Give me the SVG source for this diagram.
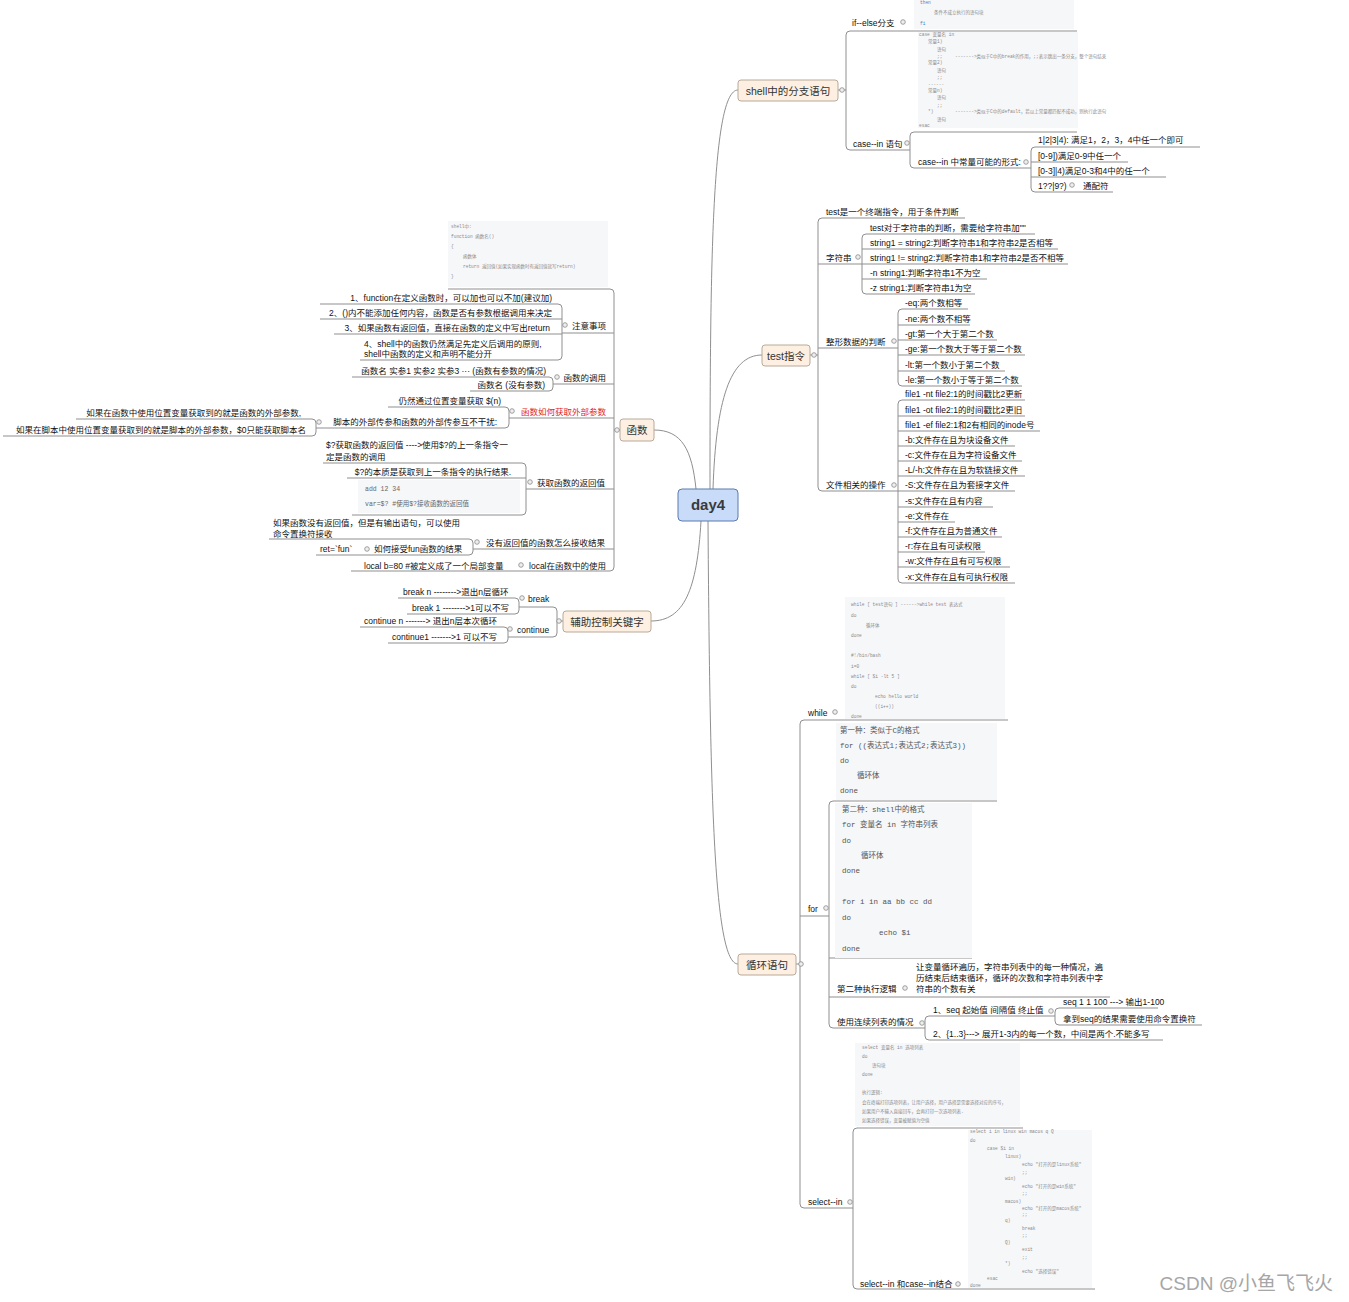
<svg xmlns="http://www.w3.org/2000/svg" width="1349" height="1302" viewBox="0 0 1349 1302">
<style>
.t{font-family:"Liberation Sans","Noto Sans CJK SC",sans-serif;font-size:8.5px;fill:#111}
.m{font-size:10.5px;fill:#333}
.e{text-anchor:end}
.r{fill:#e0231c}
.l{stroke:#8f8f8f;stroke-width:1;fill:none}
.d{fill:#eee;stroke:#8a8a8a;stroke-width:0.8}
.bx{fill:#fdf0e2;stroke:#b9aa99;stroke-width:1}
.im{fill:#f6f7f9}
.c{font-family:"Liberation Mono","Noto Sans CJK SC",monospace;font-size:4.5px;fill:#8a8a8a}
.c2{font-family:"Liberation Mono","Noto Sans CJK SC",monospace;font-size:7.5px;fill:#555}
.c3{font-family:"Liberation Mono","Noto Sans CJK SC",monospace;font-size:6.5px;fill:#666}
.bl{fill:#4a7fc1}
</style>
<rect width="1349" height="1302" fill="#fff"/>
<g id="connectors" class="l">
<path d="M710 489 C710 260 712 90 738 90"/>
<path d="M713 489 C716 400 730 355 762 355"/>
<path d="M696 489 C692 450 682 430 654 430"/>
<path d="M701 521 C697 590 684 621 651 621"/>
<path d="M708 521 C710 800 714 964 738 964"/>
<path d="M838 90 H846 M850 31 Q846 31 846 35 V146 Q846 150 850 150 M850 31 H1077 M850 150 H910"/>
<path d="M914 132 Q910 132 910 136 V164 Q910 168 914 168 M914 132 H1077 M914 168 H1031"/>
<path d="M1035 147 Q1031 147 1031 151 V188 Q1031 192 1035 192 M1035 147 H1200 M1031 162 H1128 M1031 177 H1166 M1035 192 H1113"/>
<path d="M810 355 H818 M822 218 Q818 218 818 222 V487 Q818 491 822 491 M822 218 H965 M818 264 H862 M818 348 H898 M822 491 H898"/>
<path d="M866 234 Q862 234 862 238 V290 Q862 294 866 294 M866 234 H1035 M862 249 H1058 M862 264 H1068 M862 279 H987 M866 294 H975"/>
<path d="M902 309 Q898 309 898 313 V382 Q898 386 902 386 M902 309 H968 M898 325 H970 M898 340 H997 M898 355 H1025 M898 371 H1005 M902 386 H1022"/>
<path d="M902 400 Q898 400 898 404 V579 Q898 583 902 583 M902 400 H1025 M898 416 H1025 M898 431 H1040 M898 446 H1015 M898 461 H1022 M898 476 H1025 M898 491 H1015 M898 507 H993 M898 522 H955 M898 537 H1002 M898 552 H985 M898 567 H1010 M902 583 H1015"/>
<path d="M620 430 H614 M610 289 Q614 289 614 293 V567 Q614 571 610 571 M448 289 H610 M562 333 H614 M553 384 H614 M509 418 H614 M526 489 H614 M473 549 H614 M351 571 H610"/>
<path d="M558 304 Q562 304 562 308 V356 Q562 360 558 360 M320 304 H558 M320 319 H562 M334 334 H562 M360 360 H558"/>
<path d="M549 377 Q553 377 553 381 V387 Q553 391 549 391 M352 377 H549 M470 391 H549"/>
<path d="M505 407 Q509 407 509 411 V424 Q509 428 505 428 M388 407 H505 M316 428 H505"/>
<path d="M312 419 Q316 419 316 423 V432 Q316 436 312 436 M76 419 H312 M3 436 H312"/>
<path d="M522 463 Q526 463 526 467 V511 Q526 515 522 515 M323 463 H522 M347 478 H526 M352 515 H522"/>
<path d="M469 539 Q473 539 473 543 V551 Q473 555 469 555 M269 539 H469 M316 555 H469"/>
<path d="M563 621 H557 M553 607 Q557 607 557 611 V633 Q557 637 553 637 M519 607 H553 M508 637 H553"/>
<path d="M515 598 Q519 598 519 602 V610 Q519 614 515 614 M398 598 H515 M407 614 H515"/>
<path d="M504 627 Q508 627 508 631 V639 Q508 643 504 643 M360 627 H504 M388 643 H504"/>
<path d="M796 964 H800 M804 720 Q800 720 800 724 V1204 Q800 1208 804 1208 M804 720 H1008 M800 916 H829 M804 1208 H853"/>
<path d="M833 801 Q829 801 829 805 V1024 Q829 1028 833 1028 M833 801 H997 M829 958 H972 M829 997 H1110 M833 1028 H925"/>
<path d="M929 1016 Q925 1016 925 1020 V1036 Q925 1040 929 1040 M929 1016 H1055 M929 1040 H1163"/>
<path d="M1059 1008 Q1055 1008 1055 1012 V1021 Q1055 1025 1059 1025 M1059 1008 H1158 M1059 1025 H1202"/>
<path d="M857 1128 Q853 1128 853 1132 V1285 Q853 1289 857 1289 M857 1128 H1023 M857 1289 H1095"/>
</g>

<g id="day4">
<rect x="678" y="489" width="60" height="32" rx="4" fill="#c8dcfa" stroke="#5a7bb0"/>
<text x="708" y="510" text-anchor="middle" font-family="Liberation Sans, Noto Sans, sans-serif" font-size="15" font-weight="bold" fill="#3a3a3a">day4</text>
</g>

<g id="n-shell">
<rect class="bx" x="738" y="80" width="100" height="21" rx="3"/>
<text class="t m" x="788" y="94.5" text-anchor="middle">shell中的分支语句</text>
<circle class="d" cx="842" cy="90" r="2.3"/>
</g>
<g id="n-ifelse">
<text class="t" x="852" y="26">if--else分支</text>
<circle class="d" cx="903" cy="22" r="2.3"/>
<rect class="im" x="914" y="0" width="160" height="29"/>
<text class="c bl" x="920" y="3.5">then</text>
<text class="c" x="934" y="14">条件不成立执行的语句块</text>
<text class="c bl" x="920" y="25">fi</text>
</g>
<g id="n-casein">
<text class="t" x="853" y="146.5">case--in 语句</text>
<circle class="d" cx="907" cy="143" r="2.3"/>
<rect class="im" x="918" y="32" width="160" height="96"/>
<text class="c" x="919" y="36">case 变量名 in</text>
<text class="c" x="928" y="43.2">常量1)</text>
<text class="c" x="937" y="50.5">语句</text>
<text class="c" x="937" y="57.5">;;</text>
<text class="c" x="955" y="57.5">-------&gt;类似于C中的break的作用，;;表示跳出一条分支，整个语句结束</text>
<text class="c" x="928" y="63.8">常量2)</text>
<text class="c" x="937" y="71.5">语句</text>
<text class="c" x="937" y="78.8">;;</text>
<text class="c" x="928" y="84.8">......</text>
<text class="c" x="928" y="92.2">常量n)</text>
<text class="c" x="937" y="98.8">语句</text>
<text class="c" x="937" y="106.5">;;</text>
<text class="c" x="928" y="113.2">*)</text>
<text class="c" x="955" y="113.2">-------&gt;类似于C中的default，若以上常量都匹配不成功，则执行此语句</text>
<text class="c" x="937" y="120.5">语句</text>
<text class="c" x="919" y="127">esac</text>
</g>
<g id="n-const">
<text class="t" x="918" y="165">case--in 中常量可能的形式:</text>
<circle class="d" cx="1026" cy="162" r="2.3"/>
</g>
<g id="n-const-items">
<text class="t" x="1038" y="143">1|2|3|4):  满足1，2，3，4中任一个即可</text>
<text class="t" x="1038" y="158.5">[0-9])满足0-9中任一个</text>
<text class="t" x="1038" y="173.5">[0-3]|4)满足0-3和4中的任一个</text>
<text class="t" x="1038" y="188.5">1??|9?)</text>
<circle class="d" cx="1072" cy="185" r="2.3"/>
<text class="t" x="1083" y="188.5">通配符</text>
</g>

<g id="n-test">
<rect class="bx" x="762" y="345" width="48" height="21" rx="3"/>
<text class="t m" x="786" y="359.5" text-anchor="middle">test指令</text>
<circle class="d" cx="814" cy="355" r="2.3"/>
</g>
<g id="n-test-items">
<text class="t" x="826" y="214.5">test是一个终端指令，用于条件判断</text>
<text class="t" x="826" y="260.5">字符串</text>
<circle class="d" cx="858" cy="257" r="2.3"/>
<text class="t" x="826" y="344.5">整形数据的判断</text>
<circle class="d" cx="894" cy="341" r="2.3"/>
<text class="t" x="826" y="488">文件相关的操作</text>
<circle class="d" cx="894" cy="485" r="2.3"/>
</g>
<g id="n-string">
<text class="t" x="870" y="230.5">test对于字符串的判断，需要给字符串加""</text>
<text class="t" x="870" y="245.5">string1 = string2:判断字符串1和字符串2是否相等</text>
<text class="t" x="870" y="260.5">string1 != string2:判断字符串1和字符串2是否不相等</text>
<text class="t" x="870" y="275.5">-n string1:判断字符串1不为空</text>
<text class="t" x="870" y="290.5">-z string1:判断字符串1为空</text>
</g>
<g id="n-int">
<text class="t" x="905" y="305.5">-eq:两个数相等</text>
<text class="t" x="905" y="321.5">-ne:两个数不相等</text>
<text class="t" x="905" y="336.5">-gt:第一个大于第二个数</text>
<text class="t" x="905" y="351.5">-ge:第一个数大于等于第二个数</text>
<text class="t" x="905" y="367.5">-lt:第一个数小于第二个数</text>
<text class="t" x="905" y="382.5">-le:第一个数小于等于第二个数</text>
</g>
<g id="n-file">
<text class="t" x="905" y="396.5">file1 -nt file2:1的时间戳比2更新</text>
<text class="t" x="905" y="412.5">file1 -ot file2:1的时间戳比2更旧</text>
<text class="t" x="905" y="427.5">file1 -ef file2:1和2有相同的inode号</text>
<text class="t" x="905" y="442.5">-b:文件存在且为块设备文件</text>
<text class="t" x="905" y="457.5">-c:文件存在且为字符设备文件</text>
<text class="t" x="905" y="472.5">-L/-h:文件存在且为软链接文件</text>
<text class="t" x="905" y="487.5">-S:文件存在且为套接字文件</text>
<text class="t" x="905" y="503.5">-s:文件存在且有内容</text>
<text class="t" x="905" y="518.5">-e:文件存在</text>
<text class="t" x="905" y="533.5">-f:文件存在且为普通文件</text>
<text class="t" x="905" y="548.5">-r:存在且有可读权限</text>
<text class="t" x="905" y="563.5">-w:文件存在且有可写权限</text>
<text class="t" x="905" y="579.5">-x:文件存在且有可执行权限</text>
</g>

<g id="n-func">
<rect class="bx" x="620" y="419" width="34" height="22" rx="3"/>
<text class="t m" x="637" y="434" text-anchor="middle">函数</text>
<circle class="d" cx="617" cy="430" r="2.3"/>
</g>
<g id="n-func-img">
<rect class="im" x="448" y="221" width="160" height="66"/>
<text class="c" x="451" y="228">shell中:</text>
<text class="c" x="451" y="238">function   函数名()</text>
<text class="c" x="451" y="248">{</text>
<text class="c" x="463" y="258">函数体</text>
<text class="c" x="463" y="268">return 返回值(如果实现函数时有返回值就写return)</text>
<text class="c" x="451" y="278">}</text>
</g>
<g id="n-notes">
<text class="t e" x="606" y="329">注意事项</text>
<circle class="d" cx="565" cy="325" r="2.3"/>
<text class="t e" x="552" y="300.5">1、function在定义函数时，可以加也可以不加(建议加)</text>
<text class="t e" x="552" y="315.5">2、()内不能添加任何内容，函数是否有参数根据调用来决定</text>
<text class="t e" x="550" y="330.5">3、如果函数有返回值，直接在函数的定义中写出return</text>
<text class="t" x="364" y="346.5">4、shell中的函数仍然满足先定义后调用的原则,</text>
<text class="t" x="364" y="356.5">shell中函数的定义和声明不能分开</text>
</g>
<g id="n-call">
<text class="t e" x="606" y="380.5">函数的调用</text>
<circle class="d" cx="557" cy="377" r="2.3"/>
<text class="t e" x="546" y="373.5">函数名 实参1 实参2 实参3 ··· (函数有参数的情况)</text>
<text class="t e" x="545" y="387.5">函数名 (没有参数)</text>
</g>
<g id="n-extparam">
<text class="t e r" x="606" y="414.5">函数如何获取外部参数</text>
<circle class="d" cx="512" cy="411" r="2.3"/>
<text class="t e" x="501" y="403.5">仍然通过位置变量获取 $(n)</text>
<text class="t e" x="497" y="424.5">脚本的外部传参和函数的外部传参互不干扰:</text>
<circle class="d" cx="319" cy="422" r="2.3"/>
<text class="t e" x="301" y="416">如果在函数中使用位置变量获取到的就是函数的外部参数,</text>
<text class="t e" x="306" y="432.5">如果在脚本中使用位置变量获取到的就是脚本的外部参数，$0只能获取脚本名</text>
</g>
<g id="n-retval">
<text class="t e" x="605" y="485.5">获取函数的返回值</text>
<circle class="d" cx="530" cy="482" r="2.3"/>
<text class="t" x="326" y="448">$?获取函数的返回值  ----&gt;使用$?的上一条指令一</text>
<text class="t" x="326" y="459.5">定是函数的调用</text>
<text class="t e" x="511" y="474.5">$?的本质是获取到上一条指令的执行结果.</text>
<rect class="im" x="358" y="480" width="162" height="33"/>
<text class="c3" x="365" y="490.5">add  12  34</text>
<text class="c3" x="365" y="505.5">var=$?    #使用$?接收函数的返回值</text>
</g>
<g id="n-noret">
<text class="t e" x="605" y="545.5">没有返回值的函数怎么接收结果</text>
<circle class="d" cx="477" cy="542" r="2.3"/>
<text class="t" x="273" y="525.5">如果函数没有返回值，但是有输出语句，可以使用</text>
<text class="t" x="273" y="536.5">命令置换符接收</text>
<text class="t" x="320" y="552">ret=`fun`</text>
<circle class="d" cx="367" cy="549" r="2.3"/>
<text class="t" x="374" y="552">如何接受fun函数的结果</text>
</g>
<g id="n-local">
<text class="t e" x="606" y="568.5">local在函数中的使用</text>
<circle class="d" cx="521" cy="565" r="2.3"/>
<text class="t" x="364" y="568.5">local b=80  #被定义成了一个局部变量</text>
</g>

<g id="n-ctrl">
<rect class="bx" x="563" y="611" width="88" height="21" rx="3"/>
<text class="t m" x="607" y="625.5" text-anchor="middle">辅助控制关键字</text>
<circle class="d" cx="559" cy="621" r="2.3"/>
</g>
<g id="n-break">
<text class="t" x="528" y="601.5">break</text>
<circle class="d" cx="522" cy="598" r="2.3"/>
<text class="t" x="403" y="594.5">break n  --------&gt;退出n层循环</text>
<text class="t" x="412" y="610.5">break 1   --------&gt;1可以不写</text>
</g>
<g id="n-continue">
<text class="t" x="517" y="632.5">continue</text>
<circle class="d" cx="510" cy="629" r="2.3"/>
<text class="t" x="364" y="624">continue n  -------&gt; 退出n层本次循环</text>
<text class="t" x="392" y="640">continue1  -------&gt;1 可以不写</text>
</g>

<g id="n-loop">
<rect class="bx" x="738" y="954" width="58" height="21" rx="3"/>
<text class="t m" x="767" y="968.5" text-anchor="middle">循环语句</text>
<circle class="d" cx="801" cy="964" r="2.3"/>
</g>
<g id="n-while">
<text class="t" x="808" y="715.5">while</text>
<circle class="d" cx="835" cy="712" r="2.3"/>
<rect class="im" x="845" y="597" width="160" height="122"/>
<text class="c" x="851" y="606">while [ test语句 ]   ------&gt;while test 表达式</text>
<text class="c" x="851" y="617">do</text>
<text class="c" x="866" y="627">循环体</text>
<text class="c" x="851" y="637">done</text>
<text class="c" x="851" y="657">#!/bin/bash</text>
<text class="c" x="851" y="668">i=0</text>
<text class="c" x="851" y="678">while [ $i -lt 5 ]</text>
<text class="c" x="851" y="688">do</text>
<text class="c" x="875" y="698">echo hello world</text>
<text class="c" x="875" y="708">((i++))</text>
<text class="c" x="851" y="718">done</text>
</g>
<g id="n-for">
<text class="t" x="808" y="911.5">for</text>
<circle class="d" cx="826" cy="908" r="2.3"/>
</g>
<g id="n-for-c">
<rect class="im" x="836" y="723" width="161" height="77"/>
<text class="c2" x="840" y="733">第一种：类似于C的格式</text>
<text class="c2" x="840" y="748">for ((表达式1;表达式2;表达式3))</text>
<text class="c2" x="840" y="763">do</text>
<text class="c2" x="857" y="778">循环体</text>
<text class="c2" x="840" y="793">done</text>
</g>
<g id="n-for-shell">
<rect class="im" x="835" y="803" width="137" height="155"/>
<text class="c2" x="842" y="812">第二种：shell中的格式</text>
<text class="c2" x="842" y="827">for 变量名 in 字符串列表</text>
<text class="c2" x="842" y="843">do</text>
<text class="c2" x="861" y="858">循环体</text>
<text class="c2" x="842" y="873">done</text>
<text class="c2" x="842" y="904">for i in aa bb cc dd</text>
<text class="c2" x="842" y="920">do</text>
<text class="c2" x="879" y="935">echo $i</text>
<text class="c2" x="842" y="951">done</text>
</g>
<g id="n-logic">
<text class="t" x="837" y="991.5">第二种执行逻辑</text>
<circle class="d" cx="905" cy="988" r="2.3"/>
<text class="t" x="916" y="970">让变量循环遍历，字符串列表中的每一种情况，遍</text>
<text class="t" x="916" y="981">历结束后结束循环，循环的次数和字符串列表中字</text>
<text class="t" x="916" y="992">符串的个数有关</text>
</g>
<g id="n-seqlist">
<text class="t" x="837" y="1025">使用连续列表的情况</text>
<circle class="d" cx="922" cy="1023" r="2.3"/>
<text class="t" x="933" y="1013">1、seq 起始值 间隔值 终止值</text>
<circle class="d" cx="1051" cy="1011" r="2.3"/>
<text class="t" x="933" y="1037">2、{1..3}---&gt; 展开1-3内的每一个数，中间是两个.不能多写</text>
<text class="t" x="1063" y="1005">seq 1 1 100 ---&gt; 输出1-100</text>
<text class="t" x="1063" y="1021.5">拿到seq的结果需要使用命令置换符</text>
</g>
<g id="n-select">
<text class="t" x="808" y="1205">select--in</text>
<circle class="d" cx="850" cy="1202" r="2.3"/>
<rect class="im" x="855" y="1043" width="165" height="83"/>
<text class="c" x="862" y="1049">select 变量名 in 选项列表</text>
<text class="c" x="862" y="1058">do</text>
<text class="c" x="872" y="1067">语句块</text>
<text class="c" x="862" y="1076">done</text>
<text class="c" x="862" y="1094">执行逻辑:</text>
<text class="c" x="862" y="1104">会在终端打印选项列表，让用户选择，用户选择是需要选择对应的序号，</text>
<text class="c" x="862" y="1113">如果用户不输入直接回车，会再打印一次选项列表.</text>
<text class="c" x="862" y="1122">如果选择错误，变量被赋值为空值</text>
</g>
<g id="n-selectcase">
<text class="t" x="860" y="1287">select--in 和case--in结合</text>
<circle class="d" cx="958" cy="1284" r="2.3"/>
<rect class="im" x="968" y="1130" width="124" height="158"/>
<text class="c" x="970" y="1133">select i in linux win macos q Q</text>
<text class="c" x="970" y="1142">do</text>
<text class="c" x="987" y="1150">case $i in</text>
<text class="c" x="1005" y="1158">linux)</text>
<text class="c" x="1022" y="1166">echo "打开的是linux系统"</text>
<text class="c" x="1022" y="1174">;;</text>
<text class="c" x="1005" y="1180">win)</text>
<text class="c" x="1022" y="1188">echo "打开的是win系统"</text>
<text class="c" x="1022" y="1195">;;</text>
<text class="c" x="1005" y="1203">macos)</text>
<text class="c" x="1022" y="1210">echo "打开的是macos系统"</text>
<text class="c" x="1022" y="1216">;;</text>
<text class="c" x="1005" y="1222">q)</text>
<text class="c" x="1022" y="1230">break</text>
<text class="c" x="1022" y="1237">;;</text>
<text class="c" x="1005" y="1244">Q)</text>
<text class="c" x="1022" y="1251">exit</text>
<text class="c" x="1022" y="1259">;;</text>
<text class="c" x="1005" y="1265">*)</text>
<text class="c" x="1022" y="1273">echo "选择错误"</text>
<text class="c" x="987" y="1280">esac</text>
<text class="c" x="970" y="1287">done</text>
</g>
<text x="1333" y="1290" text-anchor="end" font-family="Liberation Sans, Noto Sans CJK SC, sans-serif" font-size="19" fill="#a6a6a6">CSDN @小鱼飞飞火</text>
</svg>
